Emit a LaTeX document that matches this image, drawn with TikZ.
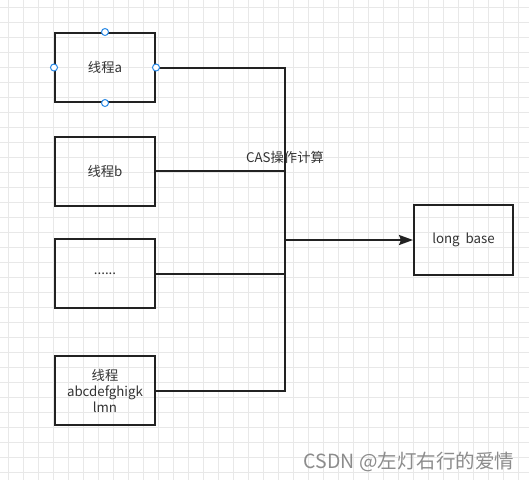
\documentclass[tikz,border=0pt]{standalone}
\usepackage{fontspec}
\setmainfont{Noto Sans CJK SC}
\usetikzlibrary{positioning, arrows.meta}

\definecolor{gridgray}{RGB}{232,232,232}
\definecolor{linegray}{RGB}{34,34,34}
\definecolor{textgray}{RGB}{51,51,51}
\definecolor{handleblue}{RGB}{41,137,230}
\definecolor{markgray}{RGB}{140,140,140}

\tikzset{
  threadbox/.style={draw=linegray, line width=2pt, minimum width=100pt, minimum height=69pt,
    text=textgray, align=center, font=\fontsize{13.3}{16}\selectfont},
  bus/.style={draw=linegray, line width=2pt},
  handle/.style={circle, draw=handleblue, fill=white, line width=1pt, inner sep=0pt, minimum size=7pt}
}

\begin{document}
\begin{tikzpicture}[x=1pt,y=-1pt]
\useasboundingbox (0,0) rectangle (529,480);
\fill[white] (0,0) rectangle (529,480);

% background grid
\foreach \x in {8.3,23.3,...,528} \draw[gridgray, line width=0.8pt] (\x,0) -- (\x,480);
\foreach \y in {7.3,22.3,...,479} \draw[gridgray, line width=0.8pt] (0,\y) -- (529,\y);

\node[threadbox] (ta) at (105,67.5) {线程a};
\node[threadbox] (tb) at (105,171) {线程b};
\node[threadbox] (tc) at (105,273.5) {......};
\node[threadbox] (td) at (105,390.5) {线程\\abcdefghigk\\lmn};
\node[threadbox, minimum width=99pt, minimum height=70pt] (base) at (463.5,240) {long~~base};

\coordinate (bustop) at (285,67.5);
\coordinate (busbot) at (285,390.5);
\coordinate (busmid) at (285,240);

\draw[bus] (ta.east) -- (bustop) -- (busbot) -- (td.east);
\draw[bus] (tb.east) -- (tb.east -| bustop);
\draw[bus] (tc.east) -- (tc.east -| bustop);
\draw[bus, -{Stealth[length=14pt, width=10pt, inset=2pt]}] (busmid) -- (base.west);

\node[text=textgray, font=\fontsize{13.3}{15}\selectfont] (cas) at (285,157) {CAS操作计算};

% selection handles
\node[handle] (h1) at (ta.north) {};
\node[handle] (h2) at (ta.south) {};
\node[handle] (h3) at (ta.west) {};
\node[handle] (h4) at (ta.east) {};

\node[text=markgray, font=\fontsize{19.5}{22}\selectfont] (mark) at (409,462) {CSDN @左灯右行的爱情};
\end{tikzpicture}
\end{document}
